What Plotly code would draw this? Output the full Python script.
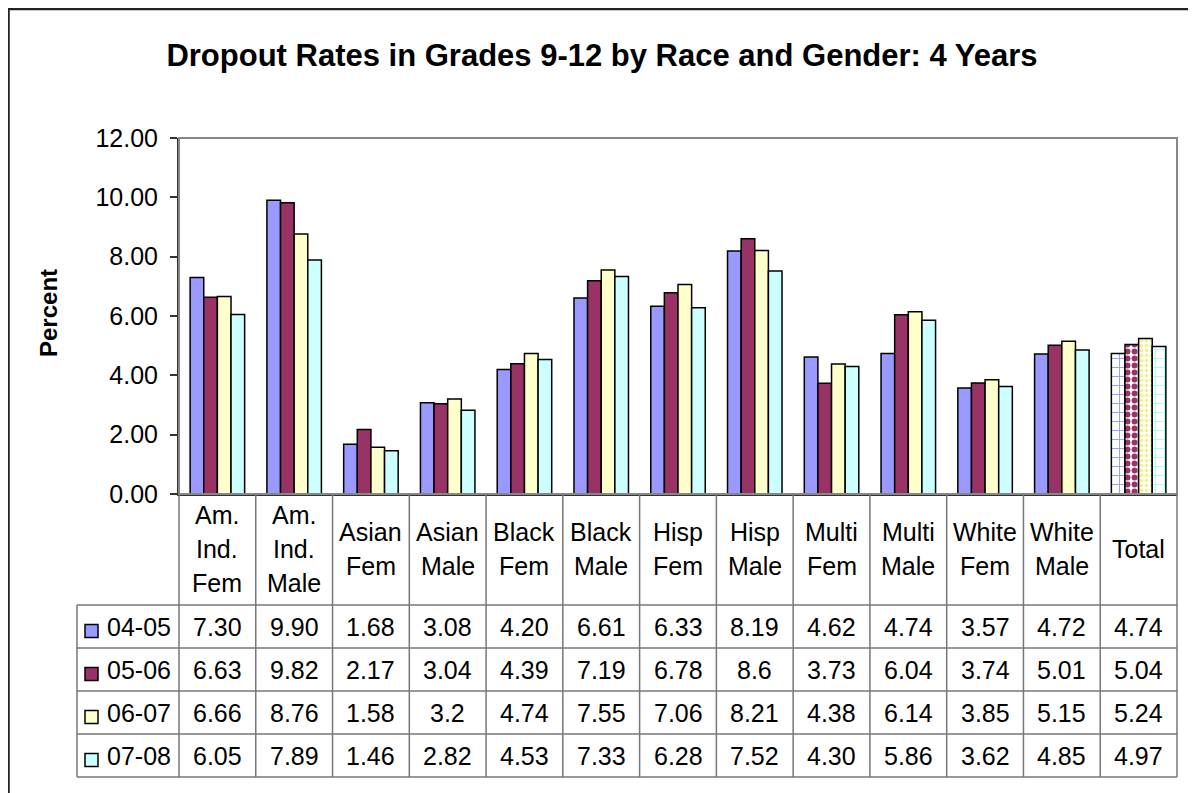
import plotly.graph_objects as go

FONT = "Arial, Liberation Sans, sans-serif"

categories = [
    "Am.<br>Ind.<br>Fem", "Am.<br>Ind.<br>Male", "Asian<br>Fem", "Asian<br>Male",
    "Black<br>Fem", "Black<br>Male", "Hisp<br>Fem", "Hisp<br>Male",
    "Multi<br>Fem", "Multi<br>Male", "White<br>Fem", "White<br>Male", "Total",
]

years = ["04-05", "05-06", "06-07", "07-08"]

rates_0405 = ["7.30", "9.90", "1.68", "3.08", "4.20", "6.61", "6.33", "8.19", "4.62", "4.74", "3.57", "4.72", "4.74"]
rates_0506 = ["6.63", "9.82", "2.17", "3.04", "4.39", "7.19", "6.78", "8.6", "3.73", "6.04", "3.74", "5.01", "5.04"]
rates_0607 = ["6.66", "8.76", "1.58", "3.2", "4.74", "7.55", "7.06", "8.21", "4.38", "6.14", "3.85", "5.15", "5.24"]
rates_0708 = ["6.05", "7.89", "1.46", "2.82", "4.53", "7.33", "6.28", "7.52", "4.30", "5.86", "3.62", "4.85", "4.97"]

series = [rates_0405, rates_0506, rates_0607, rates_0708]

COLORS = ["#9999FF", "#993366", "#FFFFCC", "#CCFFFF"]
TOTAL_PATTERN = [
    dict(shape="+", fg="#9999FF", size=9, solidity=0.2),
    dict(shape=".", fg="#993366", size=7, solidity=0.55),
    dict(shape=".", fg="#F2F28A", size=5, solidity=0.4),
    dict(shape="+", fg="#99FFFF", size=9, solidity=0.2),
]

# the page body adds an 8px margin, so the figure is shrunk and shifted by it
OFF = 8
W, H = 1196 - OFF, 793 - OFF
PL, PR, PT, PB = 179, 1177, 138, 494   # plot area in page pixels
TXT = 25


def px(x):
    return (x - PL) / (PR - PL)


def py(y):
    return (PB - y) / (PB - PT)


n = len(categories)
xs = list(range(n))

fig = go.Figure()

for k, (name, vals) in enumerate(zip(years, series)):
    pat = TOTAL_PATTERN[k]
    shapes = [""] * (n - 1) + [pat["shape"]]
    bgs = [COLORS[k]] * (n - 1) + ["white"]
    fig.add_trace(go.Bar(
        x=xs,
        y=[float(v) for v in vals],
        name=name,
        marker=dict(
            color=COLORS[k],
            line=dict(color="black", width=1.5),
            pattern=dict(shape=shapes, bgcolor=bgs, fgcolor=pat["fg"],
                         size=pat["size"], solidity=pat["solidity"], fillmode="replace"),
        ),
        showlegend=False,
    ))

shapes = []
annotations = []

# outer frame (bottom edge falls below the page) and plot frame
shapes.append(dict(type="rect", xref="paper", yref="paper",
                   x0=px(OFF + 0.5), x1=px(1191), y0=py(820), y1=py(OFF + 1),
                   line=dict(color="#222222", width=2.5)))
shapes.append(dict(type="rect", xref="paper", yref="paper",
                   x0=0, x1=1, y0=0, y1=1,
                   line=dict(color="#888888", width=2)))

# data table
ROW0 = 605
ROW_H = 43
TBL_L = 77
HEAD_LINE = 34
line_style = dict(color="#777777", width=1.5)
col_w = 1.0 / n

for i in range(n + 1):
    shapes.append(dict(type="line", xref="paper", yref="paper",
                       x0=i * col_w, x1=i * col_w, y0=py(PB), y1=py(ROW0 + ROW_H * 4),
                       line=line_style))
shapes.append(dict(type="line", xref="paper", yref="paper",
                   x0=px(TBL_L), x1=px(TBL_L), y0=py(ROW0), y1=py(ROW0 + ROW_H * 4),
                   line=line_style))
for j in range(5):
    shapes.append(dict(type="line", xref="paper", yref="paper",
                       x0=px(TBL_L), x1=1, y0=py(ROW0 + ROW_H * j), y1=py(ROW0 + ROW_H * j),
                       line=line_style))

# category header, one annotation per line
head_mid = (PB + ROW0) / 2 - 1
for i, c in enumerate(categories):
    parts = c.split("<br>")
    first = head_mid - HEAD_LINE * (len(parts) - 1) / 2
    for m, part in enumerate(parts):
        annotations.append(dict(xref="paper", yref="paper", x=(i + 0.5) * col_w,
                                y=py(first + HEAD_LINE * m), text=part, showarrow=False,
                                xanchor="center", yanchor="middle",
                                font=dict(family=FONT, size=TXT, color="black")))

# rows
for j, (name, vals) in enumerate(zip(years, series)):
    yc = ROW0 + ROW_H * j + ROW_H / 2
    shapes.append(dict(type="rect", xref="paper", yref="paper",
                       x0=px(85), x1=px(98), y0=py(yc + 11), y1=py(yc - 2),
                       fillcolor=COLORS[j], line=dict(color="black", width=1.5)))
    annotations.append(dict(xref="paper", yref="paper", x=px(105), y=py(yc),
                            text=name, showarrow=False, xanchor="left", yanchor="middle",
                            font=dict(family=FONT, size=TXT, color="black")))
    for i, v in enumerate(vals):
        annotations.append(dict(xref="paper", yref="paper", x=(i + 0.5) * col_w,
                                y=py(yc), text=v, showarrow=False,
                                xanchor="center", yanchor="middle",
                                font=dict(family=FONT, size=TXT, color="black")))

# y axis title
annotations.append(dict(xref="paper", yref="paper", x=px(48), y=py(313),
                        text="<b>Percent</b>", textangle=-90, showarrow=False,
                        xanchor="center", yanchor="middle",
                        font=dict(family=FONT, size=24, color="black")))

fig.update_layout(
    width=W,
    height=H,
    margin=dict(l=PL - OFF, r=W - (PR - OFF), t=PT - OFF, b=H - (PB - OFF), pad=0),
    paper_bgcolor="white",
    plot_bgcolor="white",
    barmode="group",
    bargap=0.29,
    bargroupgap=0,
    title=dict(text="<b>Dropout Rates in Grades 9-12 by Race and Gender: 4 Years</b>",
               x=(602 - OFF) / W, xref="container", xanchor="center",
               y=1 - (55 - OFF) / H, yref="container", yanchor="middle",
               font=dict(family=FONT, size=31, color="black")),
    shapes=shapes,
    annotations=annotations,
    showlegend=False,
)

fig.update_xaxes(
    range=[-0.5, n - 0.5],
    showticklabels=False,
    showgrid=False,
    zeroline=False,
    showline=True,
    linecolor="#333333",
    linewidth=2,
    ticks="",
)

fig.update_yaxes(
    range=[0, 12],
    tickvals=[0, 2, 4, 6, 8, 10, 12],
    tickformat=".2f",
    ticks="outside",
    ticklen=7,
    tickwidth=1.5,
    tickcolor="#333333",
    ticklabelstandoff=7,
    showline=True,
    linecolor="#333333",
    linewidth=2,
    showgrid=False,
    zeroline=False,
    tickfont=dict(family=FONT, size=TXT, color="black"),
)

fig.write_html("out.html")
